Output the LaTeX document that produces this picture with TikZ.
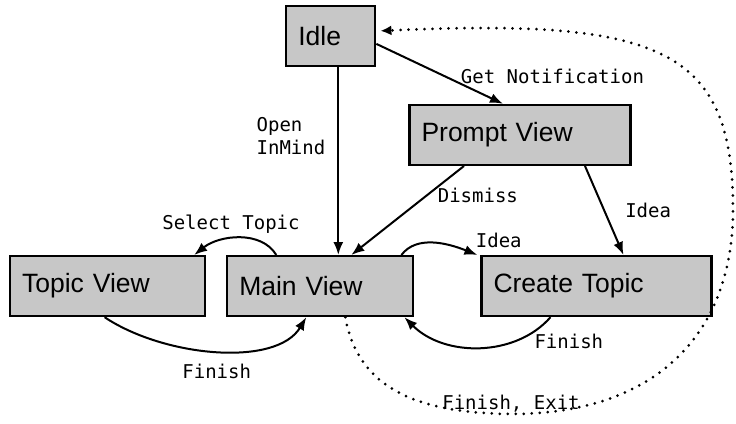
\documentclass[tikz,border=0pt]{standalone}
\usepackage{fontspec}
\setmainfont{Liberation Sans}
\newfontfamily\lblfont{DejaVu Sans Mono}
\usepackage{tikz}
\usetikzlibrary{arrows.meta,positioning}
\tikzset{
  sbox/.style={draw, line width=2.2pt, fill=black!22, align=left,
               inner xsep=12pt, inner ysep=0pt, minimum height=60pt,
               font=\fontsize{26.5}{30}\selectfont},
  lbl/.style={font=\lblfont\fontsize{19}{23}\selectfont, inner sep=2pt},
  flow/.style={-{Latex[length=13pt,width=10pt]}, line width=2pt},
  dotflow/.style={-{Latex[length=11pt,width=10pt]}, line width=3pt,
                  line cap=round, dash pattern=on 0pt off 8pt},
}
\begin{document}
\begin{tikzpicture}[x=1pt, y=-1pt]
  \useasboundingbox (0,0) rectangle (736,423);
  \node[sbox, text width=171pt, anchor=north west] (topic) at (9,255) {Topic View};
  \node[sbox, text width=162pt, right=20pt of topic] (main) {Main View};
  \node[sbox, text width=206pt, right=66pt of main] (create) {Create Topic};
  \node[sbox, text width=197pt, above right=89pt and -6pt of main.north east] (prompt) {Prompt View};
  \node[sbox, text width=65pt, above right=188pt and 59pt of main.north west] (idle) {Idle};
  % straight transitions
  \draw[flow] ([xshift=7.5pt]idle.south) -- ([xshift=7.5pt]idle.south |- main.north)
    node[lbl, pos=0.37, left=10pt, align=left] {Open\\InMind};
  \draw[flow] ([yshift=-8pt]idle.east) -- ([xshift=-17pt]prompt.north)
    node[lbl, pos=0.66, anchor=base west, inner sep=0pt] {Get Notification};
  \draw[flow] ([xshift=-56pt]prompt.south) -- ([xshift=31pt]main.north)
    node[lbl, pos=0.33, right=8pt] {Dismiss};
  \draw[flow] ([xshift=65pt]prompt.south) -- ([xshift=27pt]create.north)
    node[lbl, pos=0.5, right=18pt] {Idea};
  % curved transitions
  \draw[flow] ([xshift=-13pt]main.north east) .. controls +(15,-20) and +(-30,-12) .. ([xshift=-3pt]create.north west)
    node[lbl, pos=0.85, anchor=south west, xshift=10pt, inner sep=1pt] {Idea};
  \draw[flow] ([xshift=-46pt]create.south) .. controls +(-35,40) and +(40,40) .. ([xshift=-10pt]main.south east)
    node[lbl, pos=0.15, anchor=north west, inner sep=1pt] {Finish};
  \draw[flow] ([xshift=-44pt]main.north) .. controls +(-15,-25) and +(25,-20) .. ([xshift=-12pt]topic.north east)
    node[lbl, pos=0.5, above=2pt, xshift=-8pt] {Select Topic};
  \draw[flow] ([xshift=-3pt]topic.south) .. controls +(60,40) and +(-30,50) .. ([xshift=-14pt]main.south)
    node[lbl, pos=0.5, below=10pt] {Finish};
  % back to idle
  \draw[dotflow] ([xshift=25pt]main.south) .. controls +(13,73) and +(-91,-1) .. (511,414)
    node[lbl, anchor=base, yshift=5pt, inner sep=0pt] {Finish, Exit}
    .. controls +(149,0) and +(0,120) .. (733,210)
    .. controls +(0,-160) and +(283,-13) .. ([xshift=4pt,yshift=5pt]idle.east);
\end{tikzpicture}
\end{document}
